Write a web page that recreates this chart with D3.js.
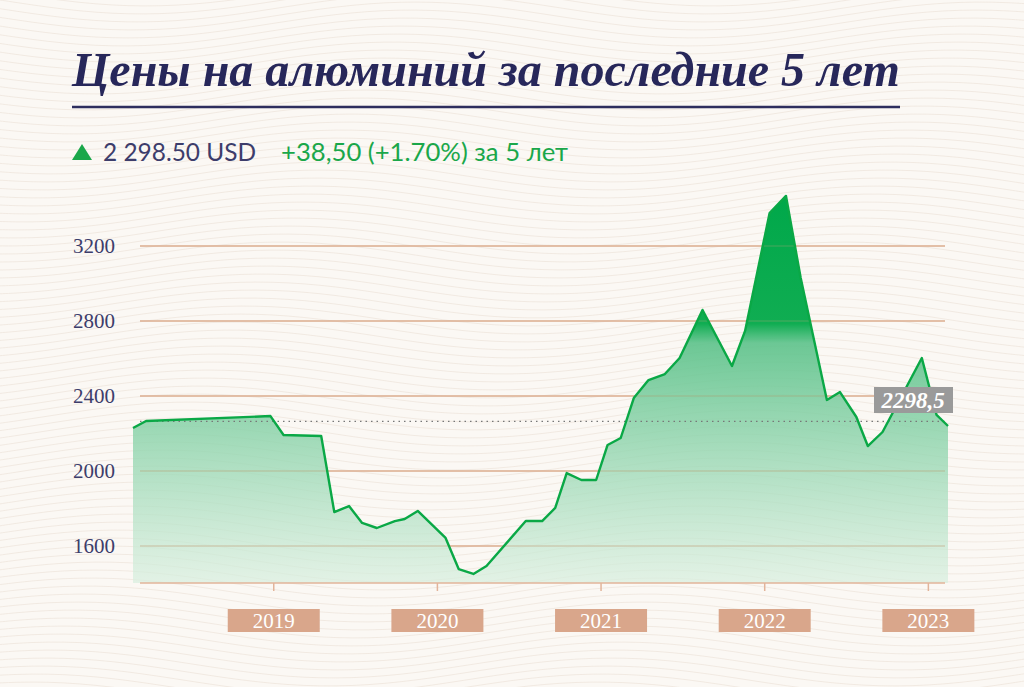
<!DOCTYPE html>
<html><head><meta charset="utf-8">
<script src="https://cdn.jsdelivr.net/npm/d3@7"></script>
<style>body{margin:0;background:#fbf8f4}</style></head>
<body><svg id="c" width="1024" height="687"></svg>
<script>
const years = [2018.14,2018.22,2018.98,2019.06,2019.29,2019.37,2019.46,2019.54,2019.63,2019.74,2019.80,2019.88,2020.05,2020.13,2020.22,2020.30,2020.54,2020.64,2020.72,2020.79,2020.88,2020.97,2021.04,2021.12,2021.20,2021.29,2021.39,2021.48,2021.62,2021.80,2021.88,2022.03,2022.13,2022.22,2022.38,2022.46,2022.56,2022.63,2022.72,2022.96,2023.05,2023.12];
const prices = [2229,2267,2293,2192,2187,1781,1813,1723,1696,1733,1744,1787,1643,1477,1451,1493,1733,1733,1803,1989,1952,1952,2139,2176,2389,2485,2517,2603,2859,2560,2747,3376,3467,3029,2379,2421,2288,2133,2208,2603,2299,2240];
const yTicks = [1600,2000,2400,2800,3200];
const xTicks = [2019,2020,2021,2022,2023];
const refValue = 2265;
const lastLabel = "2298,5";
const title = "Цены на алюминий за последние 5 лет";
const priceText = "2 298.50 USD";
const changeText = "+38,50 (+1.70%) за 5 лет";

const svg = d3.select("#c");
const defs = svg.append("defs");
const bg = svg.append("g");
bg.append("rect").attr("width",1024).attr("height",687).attr("fill","#fbf8f4");
const wave = d3.line().curve(d3.curveBasis);
for(let i=-20;i<90;i++){
  const pts=[];
  for(let x=0;x<=1024;x+=16){pts.push([x, i*8 + 14*Math.sin(x/90 + i*0.05)]);}
  bg.append("path").attr("d",wave(pts)).attr("fill","none").attr("stroke","#efe6dd").attr("stroke-width",0.8);
}

const x = d3.scaleLinear().domain([2018.14,2023.12]).range([133,948]);
const y = d3.scaleLinear().domain([1600,3200]).range([546,246]);
const bottomY = 583;

const grad = defs.append("linearGradient").attr("id","g").attr("gradientUnits","userSpaceOnUse")
  .attr("x1",0).attr("x2",0).attr("y1",196).attr("y2",bottomY);
grad.append("stop").attr("offset",0).attr("stop-color","#00a84a");
grad.append("stop").attr("offset",0.33).attr("stop-color","#10ad52");
grad.append("stop").attr("offset",0.38).attr("stop-color","#5cc28a").attr("stop-opacity",0.9);
grad.append("stop").attr("offset",1).attr("stop-color","#d8efdf").attr("stop-opacity",0.7);

svg.append("g").selectAll("line").data(yTicks).join("line")
  .attr("x1",140).attr("x2",945).attr("y1",d=>y(d)).attr("y2",d=>y(d))
  .attr("stroke","#e2b49a").attr("stroke-width",1.5);

const data = years.map((t,i)=>[t,prices[i]]);
svg.append("path").datum(data)
  .attr("d",d3.area().x(d=>x(d[0])).y0(bottomY).y1(d=>y(d[1])))
  .attr("fill","url(#g)");
svg.append("g").selectAll("line").data(yTicks).join("line")
  .attr("x1",140).attr("x2",945).attr("y1",d=>y(d)).attr("y2",d=>y(d))
  .attr("stroke","#c8a080").attr("stroke-opacity",0.35).attr("stroke-width",1.2);

svg.append("line").attr("x1",140).attr("x2",948).attr("y1",y(refValue)).attr("y2",y(refValue))
  .attr("stroke","#777").attr("stroke-dasharray","1.5,4").attr("stroke-width",1.2);

svg.append("path").datum(data)
  .attr("d",d3.line().x(d=>x(d[0])).y(d=>y(d[1])))
  .attr("fill","none").attr("stroke","#0aa846").attr("stroke-width",2.4).attr("stroke-linejoin","round");

svg.append("line").attr("x1",140).attr("x2",945).attr("y1",bottomY).attr("y2",bottomY)
  .attr("stroke","#e2b49a").attr("stroke-width",1.5);
const xt = svg.append("g").selectAll("g").data(xTicks).join("g").attr("transform",d=>`translate(${x(d)},0)`);
xt.append("line").attr("y1",bottomY).attr("y2",bottomY+8).attr("stroke","#e2b49a").attr("stroke-width",1.5);
xt.append("rect").attr("x",-46).attr("y",609).attr("width",92).attr("height",23).attr("fill","#d9a68b");
xt.append("text").attr("y",628).attr("text-anchor","middle").attr("fill","#fff")
  .attr("font-family","Liberation Serif, serif").attr("font-size",21).text(d=>d);

svg.append("g").selectAll("text").data(yTicks).join("text")
  .attr("x",73).attr("y",d=>y(d)+7).attr("fill","#3d3d6b")
  .attr("font-family","Liberation Serif, serif").attr("font-size",21).text(d=>d);

svg.append("rect").attr("x",874).attr("y",387).attr("width",79).attr("height",26).attr("fill","#9a9a9a");
svg.append("text").attr("x",913).attr("y",408).attr("text-anchor","middle").attr("fill","#fff")
  .attr("font-family","Liberation Serif, serif").attr("font-weight","bold").attr("font-style","italic")
  .attr("font-size",23).text(lastLabel);

const t = svg.append("text").attr("x",72).attr("y",86).attr("fill","#27275a")
  .attr("font-family","Liberation Serif, serif").attr("font-weight","bold").attr("font-style","italic")
  .attr("font-size",44).text(title);
const w = t.node().getComputedTextLength();
t.attr("font-size",44*828/w);
svg.append("line").attr("x1",72).attr("x2",900).attr("y1",107).attr("y2",107).attr("stroke","#2e2e5e").attr("stroke-width",2.5);

svg.append("path").attr("d","M72,160 L82,144 L92,160 Z").attr("fill","#1aa74a");
svg.append("text").attr("x",103).attr("y",161).attr("fill","#3d3d6b")
  .attr("font-family","Lato, sans-serif").attr("font-size",25)
  .attr("textLength",153).attr("lengthAdjust","spacingAndGlyphs").text(priceText);
svg.append("text").attr("x",281).attr("y",161).attr("fill","#1aa74a")
  .attr("font-family","Lato, sans-serif").attr("font-size",25)
  .attr("textLength",287).attr("lengthAdjust","spacingAndGlyphs").text(changeText);
</script></body></html>
